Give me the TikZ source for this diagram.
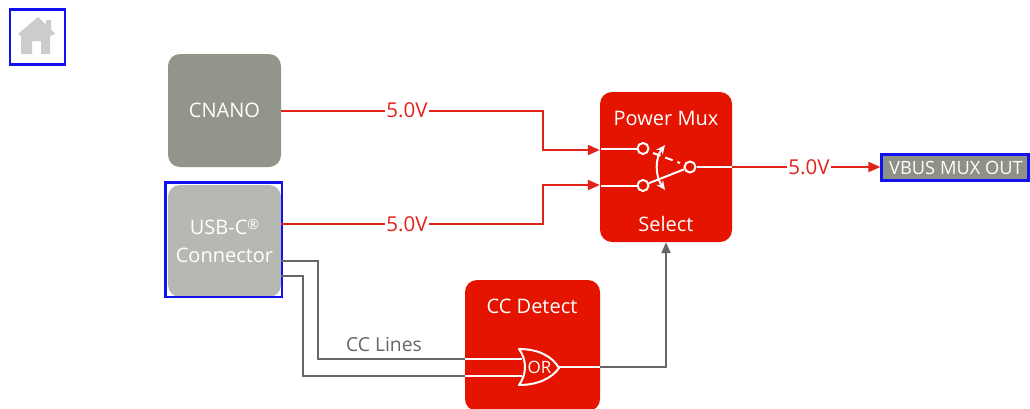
\documentclass[tikz,border=0pt]{standalone}
\usepackage{fontspec}
\setmainfont{Open Sans}
\usetikzlibrary{arrows.meta,calc}
\definecolor{boxred}{HTML}{E41400}
\definecolor{wirered}{HTML}{E2231A}
\definecolor{wiregray}{HTML}{666666}
\definecolor{cnanogray}{HTML}{92968A}
\definecolor{usbgray}{HTML}{B5B9B1}
\definecolor{vbusgray}{HTML}{8D9186}
\definecolor{selblue}{HTML}{1212F0}
\definecolor{homegray}{HTML}{CCCCCC}
\tikzset{
  ublock/.style={rounded corners=12pt,inner sep=0pt,text=white,font=\fontsize{20}{28}\selectfont,align=center},
  seltext/.style={inner sep=0pt,text=white,font=\fontsize{20}{24}\selectfont},
  redwire/.style={draw=wirered,line width=2pt},
  redarrow/.style={redwire,-{Triangle[length=12pt,width=10pt]}},
  graywire/.style={draw=wiregray,line width=2.2pt},
  whitewire/.style={draw=white,line width=2pt},
  volt/.style={fill=white,inner sep=1pt,text=wirered,font=\fontsize{20.5}{24}\selectfont},
  pin/.style={circle,draw=white,fill=boxred,line width=2pt,minimum size=11pt,inner sep=0pt},
  selbox/.style={draw=selblue,line width=2.2pt}
}
\begin{document}
\begin{tikzpicture}[x=1pt,y=-1pt]
\clip (0,0) rectangle (1030,408);
\fill[white] (0,0) rectangle (1030,408);
% home
\node[selbox,minimum width=55pt,minimum height=55pt,inner sep=0pt] (home) at (37.5,37) {};
\fill[homegray] (38,17) -- (46,24.5) -- (46,20) -- (51,20) -- (51,29) -- (55,34) -- (50,36) -- (50,54) -- (41,54) -- (41,41) -- (32,41) -- (32,54) -- (21,54) -- (21,36) -- (18,34) -- cycle;
% blocks
\node[ublock,fill=cnanogray,minimum width=113pt,minimum height=113pt] (cnano) at (224.5,110.5) {CNANO};
\node[ublock,fill=usbgray,minimum width=113pt,minimum height=112pt] (usb) at (224.5,241) {USB-C\raisebox{5pt}{\fontsize{14}{14}\selectfont ®}\\Connector};
\draw[selblue,line width=2.2pt] (165.5,182.5) rectangle (282,297);
\node[ublock,fill=boxred,minimum width=132pt,minimum height=150pt] (mux) at (666,167) {};
\node[ublock,fill=boxred,minimum width=135pt,minimum height=131pt] (cc) at (532.5,345.5) {};
\node[seltext] (muxlabel) at (666,118) {Power Mux};
\node[seltext] (sellabel) at (666,224) {Select};
\node[seltext] (cclabel) at (532,306) {CC Detect};
\node[selbox,fill=vbusgray,minimum width=147pt,minimum height=26pt,inner sep=0pt,text=white,font=\fontsize{18.3}{22}\selectfont] (vbus) at (955,167.5) {\hspace{2pt}VBUS MUX OUT};
% switch
\node[pin] (in1) at (643,148.5) {};
\node[pin] (in2) at (643,185.5) {};
\node[pin] (out) at (690,167) {};
\draw[whitewire] (in2) -- (out);
\draw[whitewire,dash pattern=on 8pt off 5pt] (653,153) -- (680,163);
\draw[whitewire,{Stealth[length=9pt,width=8pt]}-{Stealth[length=9pt,width=8pt]}] (665,145) .. controls (655,158) and (655,176) .. (665,190);
% red wires
\draw[redarrow] (cnano.east) -- (543,110.5) -- (543,150) -- ([yshift=17pt]mux.west);
\draw[redarrow] ([yshift=17pt]usb.east) -- (543,224) -- (543,185) -- ([yshift=-18pt]mux.west);
\draw[redarrow] (mux.east) -- (mux.east -| vbus.west);
\draw[whitewire] (600.5,148.5) -- (in1);
\draw[whitewire] (600.5,185.5) -- (in2);
\draw[whitewire] (out) -- (732,167);
\node[volt] (v1) at (407,110) {5.0V};
\node[volt] (v2) at (407,224) {5.0V};
\node[volt] (v3) at (809,167) {5.0V};
% gray wires
\coordinate (ora) at (522,359);
\coordinate (orb) at (522,376);
\coordinate (oro) at (559,367);
\draw[graywire] ([yshift=-20pt]usb.east) -- (318,261) -- (318,359) -- (465,359);
\draw[graywire] ([yshift=-35pt]usb.east) -- (303,276) -- (303,376) -- (465,376);
\draw[whitewire] (465,359) -- (ora);
\draw[whitewire] (465,376) -- (orb);
\draw[whitewire] (oro) -- (600,367);
\draw[graywire,-{Triangle[length=11pt,width=9pt]}] (600,367) -- (666,367) -- (mux.south);
\draw[white,line width=2pt,fill=boxred,line join=round] (519,349) .. controls (538,349) and (552,356) .. (559,368) .. controls (552,378) and (538,385) .. (519,385) .. controls (527,374) and (527,360) .. (519,349) -- cycle;
\node[inner sep=0pt,text=white,font=\fontsize{17}{20}\selectfont] (orlabel) at (539.5,367) {OR};
\node[inner sep=0pt,text=wiregray,font=\fontsize{19.3}{22}\selectfont] (cclines) at (384,345) {CC Lines};
\end{tikzpicture}
\end{document}
